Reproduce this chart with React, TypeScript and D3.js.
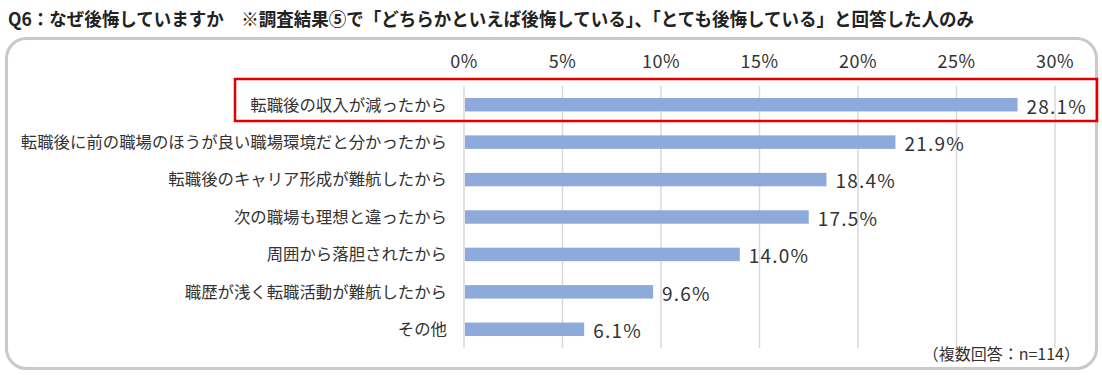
import * as d3 from 'd3'
import { useEffect, useRef } from 'react'

const categories = [
  '転職後の収入が減ったから',
  '転職後に前の職場のほうが良い職場環境だと分かったから',
  '転職後のキャリア形成が難航したから',
  '次の職場も理想と違ったから',
  '周囲から落胆されたから',
  '職歴が浅く転職活動が難航したから',
  'その他',
]
const values = [28.1, 21.9, 18.4, 17.5, 14.0, 9.6, 6.1]
const ticks = [0, 5, 10, 15, 20, 25, 30]

const title = 'Q6：なぜ後悔していますか　※調査結果⑤で「どちらかといえば後悔している」、「とても後悔している」と回答した人のみ'
const note = '（複数回答：n=114）'

const font = '"Noto Sans CJK JP", "Noto Sans", sans-serif'

export default function App() {
  const ref = useRef<SVGSVGElement>(null)

  useEffect(() => {
    if (!ref.current) return
    const width = 1102
    const height = 375

    const svg = d3.select(ref.current)
      .attr('width', width)
      .attr('height', height)
      .style('font-family', font)

    const root = svg.append('g')

    // title
    root.append('text')
      .attr('x', 8)
      .attr('y', 26)
      .attr('font-size', 18.5)
      .attr('font-weight', 'bold')
      .attr('fill', '#222')
      .attr('textLength', 966)
      .attr('lengthAdjust', 'spacingAndGlyphs')
      .text(title)

    // outer frame
    root.append('rect')
      .attr('x', 6.5)
      .attr('y', 38.5)
      .attr('width', 1090)
      .attr('height', 330)
      .attr('rx', 20)
      .attr('fill', '#fff')
      .attr('stroke', '#c9c9c9')
      .attr('stroke-width', 3)

    const x = d3.scaleLinear().domain([0, 30]).range([464, 1055])
    const y = d3.scaleBand().domain(categories).range([86, 348]).paddingInner(0.64).paddingOuter(0.32)

    // gridlines
    root.append('g').selectAll('line')
      .data(ticks)
      .enter()
      .append('line')
      .attr('x1', d => x(d))
      .attr('x2', d => x(d))
      .attr('y1', 86)
      .attr('y2', 348)
      .attr('stroke', '#d9d9d9')
      .attr('stroke-width', 1.5)

    // tick labels
    root.append('g').selectAll('text')
      .data(ticks)
      .enter()
      .append('text')
      .attr('x', d => x(d))
      .attr('y', 68)
      .attr('text-anchor', 'middle')
      .attr('font-size', 18)
      .attr('letter-spacing', 0.5)
      .attr('fill', '#333')
      .text(d => d + '%')

    // bars
    root.append('g').selectAll('rect')
      .data(values)
      .enter()
      .append('rect')
      .attr('x', x(0) + 1)
      .attr('y', (_d, i) => y(categories[i])!)
      .attr('width', d => x(d) - x(0) - 1)
      .attr('height', y.bandwidth())
      .attr('fill', '#8eaadb')

    // category labels
    root.append('g').selectAll('text')
      .data(categories)
      .enter()
      .append('text')
      .attr('x', 447)
      .attr('y', d => y(d)! + y.bandwidth() / 2)
      .attr('dy', '0.36em')
      .attr('text-anchor', 'end')
      .attr('font-size', 16.4)
      .attr('fill', '#333')
      .text(d => d)

    // value labels
    root.append('g').selectAll('text')
      .data(values)
      .enter()
      .append('text')
      .attr('x', d => x(d) + 9)
      .attr('y', (_d, i) => y(categories[i])! + y.bandwidth() / 2 + 2)
      .attr('dy', '0.36em')
      .attr('font-size', 19)
      .attr('letter-spacing', 1.2)
      .attr('fill', '#333')
      .text(d => d.toFixed(1) + '%')

    // highlight box
    root.append('rect')
      .attr('x', 235)
      .attr('y', 79)
      .attr('width', 862)
      .attr('height', 42)
      .attr('fill', 'none')
      .attr('stroke', '#e00000')
      .attr('stroke-width', 2.5)

    // note
    root.append('text')
      .attr('x', 1080)
      .attr('y', 360)
      .attr('text-anchor', 'end')
      .attr('font-size', 16)
      .attr('fill', '#333')
      .text(note)

    return () => {
      root.remove()
    }
  }, [])

  return (
    <div style={{ position: 'absolute', left: 0, top: 0 }}>
      <svg ref={ref} style={{ display: 'block' }} />
    </div>
  )
}
